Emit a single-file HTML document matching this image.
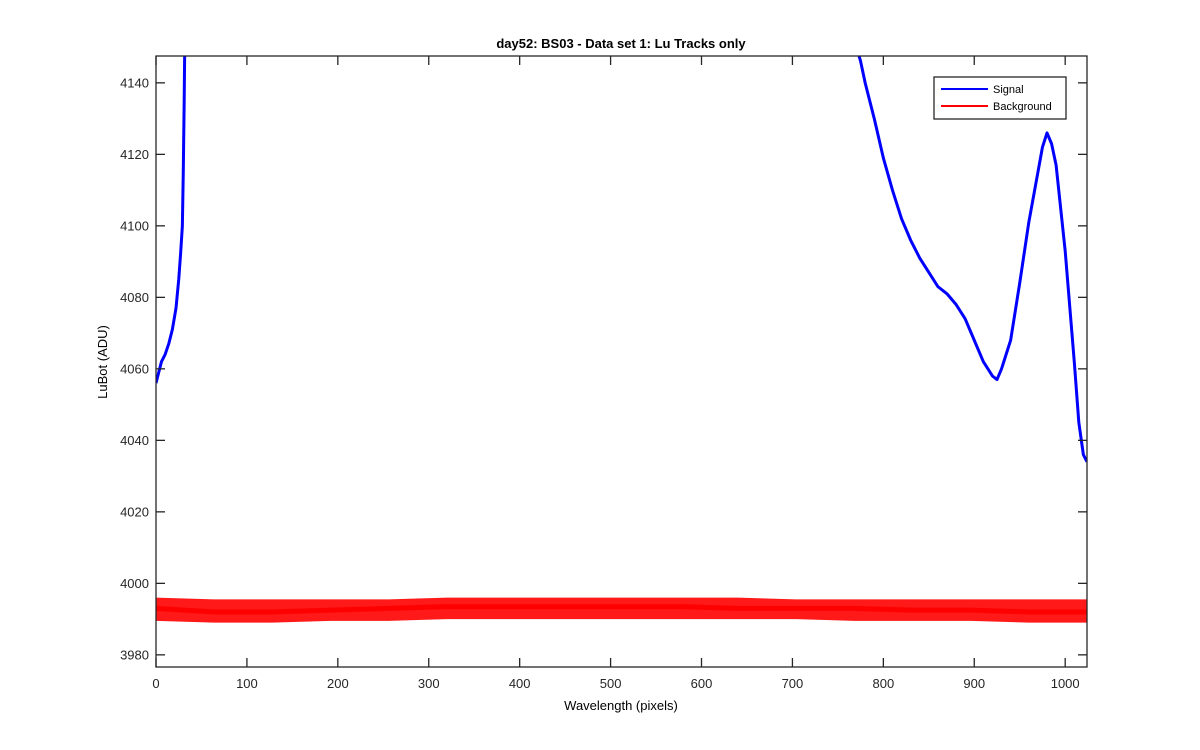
<!DOCTYPE html>
<html><head><meta charset="utf-8"><style>
body{margin:0;background:#fff;}
svg{display:block;font-family:"Liberation Sans",sans-serif;}
</style></head><body>
<svg id="chart" width="1200" height="750">
<rect x="0" y="0" width="1200" height="750" fill="#fff"/>
<rect x="156" y="56" width="931" height="611" fill="#fff"/>
<defs><clipPath id="clip"><rect x="156" y="56" width="931" height="611"/></clipPath></defs>
<g id="marks" clip-path="url(#clip)"></g>
<g id="axes"></g>
<text x="621" y="48" text-anchor="middle" font-size="13" font-weight="bold">day52: BS03 - Data set 1: Lu Tracks only</text>
<text x="621" y="710" text-anchor="middle" font-size="13">Wavelength (pixels)</text>
<text transform="translate(107,362) rotate(-90)" text-anchor="middle" font-size="13">LuBot (ADU)</text>
<g>
<rect x="934" y="77" width="132" height="42" fill="#fff" stroke="#262626" stroke-width="1.3"/>
<line x1="941" y1="89" x2="988" y2="89" stroke="#0000ff" stroke-width="2"/>
<text x="993" y="93" font-size="11">Signal</text>
<line x1="941" y1="106" x2="988" y2="106" stroke="#ff0000" stroke-width="2"/>
<text x="993" y="110" font-size="11">Background</text>
</g>
</svg>
<script>
const xTicks=[0,100,200,300,400,500,600,700,800,900,1000];
const yTicks=[3980,4000,4020,4040,4060,4080,4100,4120,4140];
const sigLeftX=[0,3,6,10,14,18,22,25,27,29,30,31,32];
const sigLeftY=[4056,4059,4062,4064,4067,4071,4077,4085,4092,4100,4115,4135,4160];
const sigRightX=[765,775,780,790,800,810,820,830,840,850,860,870,880,890,900,910,915,920,925,930,940,950,960,970,975,980,985,990,1000,1010,1015,1020,1024];
const sigRightY=[4155,4146,4140,4130,4119,4110,4102,4096,4091,4087,4083,4081,4078,4074,4068,4062,4060,4058,4057,4060,4068,4084,4101,4115,4122,4126,4123,4117,4093,4062,4045,4036,4034];
const bgX=[0,64,128,192,256,320,384,448,512,576,640,704,768,832,896,960,1024];
const bgUpper=[3996,3995.5,3995.5,3995.5,3995.5,3996,3996,3996,3996,3996,3996,3995.5,3995.5,3995.5,3995.5,3995.5,3995.5];
const bgLower=[3989.5,3989,3989,3989.5,3989.5,3990,3990,3990,3990,3990,3990,3990,3989.5,3989.5,3989.5,3989,3989];
const bgMid=[3993,3992,3992,3992.5,3993,3993.5,3993.5,3993.5,3993.5,3993.5,3993,3993,3993,3992.5,3992.5,3992,3992];
const X=v=>156+v*931/1024, Y=v=>667-(v-3976.6)*3.575;
const NS='http://www.w3.org/2000/svg';
const marks=document.getElementById('marks'), axes=document.getElementById('axes');
function mk(t,a,p){const e=document.createElementNS(NS,t);for(const k in a)e.setAttribute(k,a[k]);p.appendChild(e);return e;}
let d='M'+bgX.map((x,i)=>X(x)+','+Y(bgUpper[i])).join('L')+'L'+bgX.slice().reverse().map((x,i)=>X(x)+','+Y(bgLower[bgX.length-1-i])).join('L')+'Z';
const band=mk('path',{d:d,fill:'#ff0000','fill-opacity':'0.9'},marks);


const bgl=mk('polyline',{points:bgX.map((x,i)=>X(x)+','+Y(bgMid[i])).join(' '),fill:'none',stroke:'#ff0000','stroke-width':5},marks);


[[sigLeftX,sigLeftY,'signal-line-left'],[sigRightX,sigRightY,'signal-line-right']].forEach(([xs,ys,n])=>{
 const p=mk('polyline',{points:xs.map((x,i)=>X(x)+','+Y(ys[i])).join(' '),fill:'none',stroke:'#0000ff','stroke-width':3,'stroke-linejoin':'round'},marks);
 
 
});
const box=mk('rect',{x:156,y:56,width:931,height:611,fill:'none',stroke:'#262626','stroke-width':1.3},axes);


xTicks.forEach(v=>{const x=X(v);
 mk('line',{x1:x,y1:667,x2:x,y2:658,stroke:'#262626','stroke-width':1.3},axes);
 mk('line',{x1:x,y1:56,x2:x,y2:65,stroke:'#262626','stroke-width':1.3},axes);
 const t=mk('text',{x:x,y:688,'text-anchor':'middle','font-size':13,fill:'#262626'},axes);t.textContent=v;
 
 
});
yTicks.forEach(v=>{const y=Y(v);
 mk('line',{x1:156,y1:y,x2:165,y2:y,stroke:'#262626','stroke-width':1.3},axes);
 mk('line',{x1:1087,y1:y,x2:1078,y2:y,stroke:'#262626','stroke-width':1.3},axes);
 const t=mk('text',{x:149,y:y+4.5,'text-anchor':'end','font-size':13,fill:'#262626'},axes);t.textContent=v;
 
 
});
</script>
</body></html>
